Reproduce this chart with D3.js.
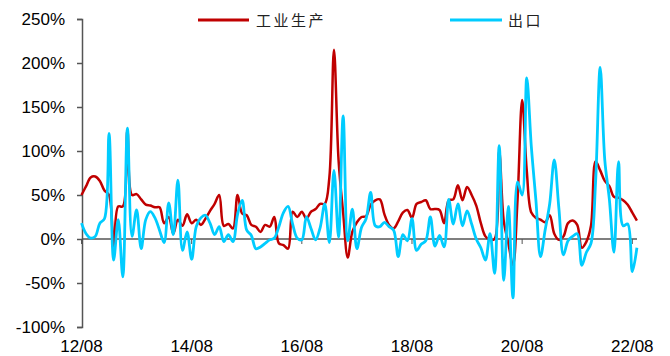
<!DOCTYPE html>
<html>
<head>
<meta charset="utf-8">
<script src="https://cdn.jsdelivr.net/npm/d3@7"></script>
<style>
  html, body { margin: 0; padding: 0; background: #fff; }
  svg { display: block; }
</style>
</head>
<body>
<svg id="chart" width="670" height="356"></svg>
<script>
// ---- data (monthly, 2012-08 .. 2022-09) ----
const seriesNames = ["工业生产", "出口"];
const industry = [
  50, 60, 70, 71, 66, 55, 50, -8, 37, 37,
  124, 50, 51, 45, 39, 38, 36, 36, 18, 25,
  6, 22, 15, 28, 18, 22, 16, 23, 32, 40,
  50, 15, 17, 12, 50, 29, 27, 16, 14, 8,
  16, 14, 25, -5, -7, -11, 31, 25, 31, 23,
  31, 34, 40, 40, 70, 215, 90, 30, -21, 8,
  19, 25, 26, 39, 44, 45, 28, 16, 12, 20,
  30, 33, 24, 40, 42, 44, 34, 34, 33, 18,
  44, 45, 61, 44, 59, 50, 38, 18, 3, -1,
  0, 100, 20, -5, -30, 45, 158, 78, 30, 24,
  22, 19, 27, 6, -1, 3, 18, 21, 16, -10,
  -3, 15, 88, 78, 66, 60, 48, 47, 44, 39,
  30, 21
];
const exportsS = [
  18, 6, 1, 3, 18, 23, 120, -24, 22, -43,
  126, 3, 33, -11, 22, 31, 24, 10, -4, 41,
  5, 67, -13, 8, -23, 14, 24, 27, 18, 5,
  14, -3, 5, -3, 28, 44, 10, 4, -11, -9,
  -5, -1, 1, 14, 30, 37, 17, 1, -1, 25,
  12, -1, 13, 40, -4, 78, 2, 140, -2, 34,
  -11, 13, 23, 53, 15, 14, 19, 14, 10, -20,
  5, -2, 23, -13, -6, -2, 25, -8, 4, -9,
  45, 17, 40, 15, 32, 17, 0, -10, -24, 6,
  -39, 106, -47, 37, -67, 65, 50, 183, 105, 44,
  -20, 10, 40, 90, 35, -18, -2, 3, 6, -30,
  -15, -5, 65, 195, 90, 45, -15, 88, 15, 17,
  -37, -10
];
const xTickLabels = ["12/08", "14/08", "16/08", "18/08", "20/08", "22/08"];
const yTicks = [-100, -50, 0, 50, 100, 150, 200, 250];
const colors = ["#C00000", "#00CCFF"];

// ---- layout ----
const svg = d3.select("#chart");
const x = d3.scaleLinear().domain([0, industry.length - 1]).range([81.5, 636.9]);
const y = d3.scaleLinear().domain([-100, 250]).range([327, 19]);
const axisColor = "#555";
const font = "'Liberation Sans', Arial, sans-serif";

// Y axis
const yAxis = d3.axisLeft(y).tickValues(yTicks).tickSize(5).tickPadding(12)
  .tickFormat(d => d + "%");
const gy = svg.append("g").attr("transform", "translate(82,0)").call(yAxis);
gy.select(".domain").attr("stroke", axisColor).attr("stroke-width", 1.5);
gy.selectAll(".tick line").attr("stroke", axisColor).attr("stroke-width", 1.5);
gy.selectAll(".tick text").attr("fill", "#000").style("font-family", font).style("font-size", "17px");

// zero line (category axis)
svg.append("line")
  .attr("x1", 82).attr("x2", 637)
  .attr("y1", y(0)).attr("y2", y(0))
  .attr("stroke", axisColor).attr("stroke-width", 1.5);

// X ticks every 24 months on zero line, labels at bottom
const tickIdx = xTickLabels.map((_, i) => i * 24);
svg.append("g").selectAll("line").data(tickIdx).join("line")
  .attr("x1", d => x(d)).attr("x2", d => x(d))
  .attr("y1", y(0)).attr("y2", y(0) + 5)
  .attr("stroke", axisColor).attr("stroke-width", 1);
svg.append("g").selectAll("text").data(xTickLabels).join("text")
  .attr("x", (d, i) => x(tickIdx[i]))
  .attr("y", 352)
  .attr("text-anchor", "middle")
  .style("font-family", font).style("font-size", "17px")
  .attr("fill", "#000")
  .text(d => d);

// lines
const line = d3.line()
  .x((d, i) => x(i))
  .y(d => y(d))
  .curve(d3.curveCatmullRom.alpha(0.5));

svg.append("path").datum(industry)
  .attr("fill", "none").attr("stroke", colors[0]).attr("stroke-width", 2.5)
  .attr("stroke-linejoin", "round")
  .attr("d", line);
svg.append("path").datum(exportsS)
  .attr("fill", "none").attr("stroke", colors[1]).attr("stroke-width", 2.8)
  .attr("stroke-linejoin", "round")
  .attr("d", line);

// legend
const legendItems = [
  { name: seriesNames[0], color: colors[0], x1: 198, x2: 249, tx: 256 },
  { name: seriesNames[1], color: colors[1], x1: 450, x2: 502, tx: 508 }
];
const lg = svg.append("g");
legendItems.forEach(it => {
  lg.append("line").attr("x1", it.x1).attr("x2", it.x2).attr("y1", 20).attr("y2", 20)
    .attr("stroke", it.color).attr("stroke-width", 3);
  lg.append("text").attr("x", it.tx).attr("y", 26)
    .style("font-family", "'Noto Sans CJK SC', sans-serif")
    .style("font-size", "15px")
    .style("letter-spacing", "2.5px")
    .attr("fill", "#222")
    .text(it.name);
});
</script>
</body>
</html>
